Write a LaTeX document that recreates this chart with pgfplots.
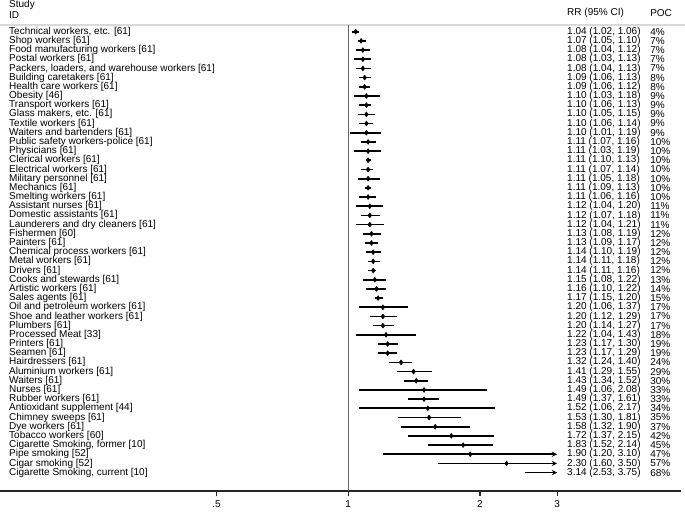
\documentclass[border=0pt]{standalone}
\usepackage{fontspec}
\setmainfont{Liberation Sans}
\usepackage{pgfplots}
\pgfplotsset{compat=1.18}
\usepackage{pgfplotstable}
\usetikzlibrary{arrows.meta}

\newcommand\fnt{\fontsize{7.5}{9}\selectfont}

\pgfplotstableread[col sep=semicolon]{
row;rr;lo;hi;name;ci;poc
1;1.04;1.02;1.06;Technical workers, etc. [61];1.04 (1.02, 1.06);4\%
2;1.07;1.05;1.10;Shop workers [61];1.07 (1.05, 1.10);7\%
3;1.08;1.04;1.12;Food manufacturing workers [61];1.08 (1.04, 1.12);7\%
4;1.08;1.03;1.13;Postal workers [61];1.08 (1.03, 1.13);7\%
5;1.08;1.04;1.13;Packers, loaders, and warehouse workers [61];1.08 (1.04, 1.13);7\%
6;1.09;1.06;1.13;Building caretakers [61];1.09 (1.06, 1.13);8\%
7;1.09;1.06;1.12;Health care workers [61];1.09 (1.06, 1.12);8\%
8;1.10;1.03;1.18;Obesity [46];1.10 (1.03, 1.18);9\%
9;1.10;1.06;1.13;Transport workers [61];1.10 (1.06, 1.13);9\%
10;1.10;1.05;1.15;Glass makers, etc. [61];1.10 (1.05, 1.15);9\%
11;1.10;1.06;1.14;Textile workers [61];1.10 (1.06, 1.14);9\%
12;1.10;1.01;1.19;Waiters and bartenders [61];1.10 (1.01, 1.19);9\%
13;1.11;1.07;1.16;Public safety workers-police [61];1.11 (1.07, 1.16);10\%
14;1.11;1.03;1.19;Physicians [61];1.11 (1.03, 1.19);10\%
15;1.11;1.10;1.13;Clerical workers [61];1.11 (1.10, 1.13);10\%
16;1.11;1.07;1.14;Electrical workers [61];1.11 (1.07, 1.14);10\%
17;1.11;1.05;1.18;Military personnel [61];1.11 (1.05, 1.18);10\%
18;1.11;1.09;1.13;Mechanics [61];1.11 (1.09, 1.13);10\%
19;1.11;1.06;1.16;Smelting workers [61];1.11 (1.06, 1.16);10\%
20;1.12;1.04;1.20;Assistant nurses [61];1.12 (1.04, 1.20);11\%
21;1.12;1.07;1.18;Domestic assistants [61];1.12 (1.07, 1.18);11\%
22;1.12;1.04;1.21;Launderers and dry cleaners [61];1.12 (1.04, 1.21);11\%
23;1.13;1.08;1.19;Fishermen [60];1.13 (1.08, 1.19);12\%
24;1.13;1.09;1.17;Painters [61];1.13 (1.09, 1.17);12\%
25;1.14;1.10;1.19;Chemical process workers [61];1.14 (1.10, 1.19);12\%
26;1.14;1.11;1.18;Metal workers [61];1.14 (1.11, 1.18);12\%
27;1.14;1.11;1.16;Drivers [61];1.14 (1.11, 1.16);12\%
28;1.15;1.08;1.22;Cooks and stewards [61];1.15 (1.08, 1.22);13\%
29;1.16;1.10;1.22;Artistic workers [61];1.16 (1.10, 1.22);14\%
30;1.17;1.15;1.20;Sales agents [61];1.17 (1.15, 1.20);15\%
31;1.20;1.06;1.37;Oil and petroleum workers [61];1.20 (1.06, 1.37);17\%
32;1.20;1.12;1.29;Shoe and leather workers [61];1.20 (1.12, 1.29);17\%
33;1.20;1.14;1.27;Plumbers [61];1.20 (1.14, 1.27);17\%
34;1.22;1.04;1.43;Processed Meat [33];1.22 (1.04, 1.43);18\%
35;1.23;1.17;1.30;Printers [61];1.23 (1.17, 1.30);19\%
36;1.23;1.17;1.29;Seamen [61];1.23 (1.17, 1.29);19\%
37;1.32;1.24;1.40;Hairdressers [61];1.32 (1.24, 1.40);24\%
38;1.41;1.29;1.55;Aluminium workers [61];1.41 (1.29, 1.55);29\%
39;1.43;1.34;1.52;Waiters [61];1.43 (1.34, 1.52);30\%
40;1.49;1.06;2.08;Nurses [61];1.49 (1.06, 2.08);33\%
41;1.49;1.37;1.61;Rubber workers [61];1.49 (1.37, 1.61);33\%
42;1.52;1.06;2.17;Antioxidant supplement [44];1.52 (1.06, 2.17);34\%
43;1.53;1.30;1.81;Chimney sweeps [61];1.53 (1.30, 1.81);35\%
44;1.58;1.32;1.90;Dye workers [61];1.58 (1.32, 1.90);37\%
45;1.72;1.37;2.15;Tobacco workers [60];1.72 (1.37, 2.15);42\%
46;1.83;1.52;2.14;Cigarette Smoking, former [10];1.83 (1.52, 2.14);45\%
47;1.90;1.20;3.10;Pipe smoking [52];1.90 (1.20, 3.10);47\%
48;2.30;1.60;3.50;Cigar smoking [52];2.30 (1.60, 3.50);57\%
49;3.14;2.53;3.75;Cigarette Smoking, current [10];3.14 (2.53, 3.75);68\%
}\studies

\begin{document}
\begin{tikzpicture}
\begin{axis}[
  scale only axis,
  width=510.75pt, height=368.25pt,
  xmode=log,
  xmin=0.160, xmax=5.76,
  ymin=-51, ymax=2.45,
  clip=false,
  hide y axis,
  axis x line=bottom,
  x axis line style={-, line width=0.9pt, black!85},
  xtick={0.5,1,2,3},
  xticklabels={{.5},{1},{2},{3}},
  minor xtick={},
  xtick align=outside,
  major tick length=3.75pt,
  xtick style={line width=0.8pt, black!85},
  xticklabel style={font=\fnt, inner sep=1pt, yshift=-2.5pt},
  ytick=\empty,
]
\coordinate (O) at (rel axis cs:0,0);
\coordinate (T) at (rel axis cs:1,1);

% header separator and line of no effect
\draw[black!15, line width=0.9pt] (axis cs:0.160,-0.27) -- ([xshift=3pt]axis cs:5.76,-0.27);
\addplot[black!60, line width=1pt] coordinates {(1,-0.27) (1,-51)};

% confidence intervals and point estimates
\addplot[only marks, mark=diamond*, mark size=1.8pt, black,
  error bars/.cd, x dir=both, x explicit,
  error bar style={line width=1.25pt, black}, error mark=none]
  table[x=rr, y expr=-\thisrow{row},
        x error plus expr=\thisrow{hi}-\thisrow{rr},
        x error minus expr=\thisrow{rr}-\thisrow{lo},
        skip coords between index={46}{49}] {\studies};

% intervals running past 3
\addplot[line width=1.25pt, -{Stealth[length=4pt,width=4pt,inset=1.5pt]}] coordinates {(1.20,-47) (3,-47)};
\addplot[line width=1.25pt, -{Stealth[length=4pt,width=4pt,inset=1.5pt]}] coordinates {(1.60,-48) (3,-48)};
\addplot[line width=1.25pt, -{Stealth[length=4pt,width=4pt,inset=1.5pt]}] coordinates {(2.53,-49) (3,-49)};
\addplot[only marks, mark=diamond*, mark size=1.8pt, black] coordinates {(1.90,-47) (2.30,-48)};

% text columns
\addplot[draw=none, mark=none, nodes near coords, point meta=explicit symbolic,
  every node near coord/.append style={anchor=west, inner sep=0pt, font=\fnt}]
  table[x expr=0.1677, y expr=-\thisrow{row}, meta=name] {\studies};
\addplot[draw=none, mark=none, nodes near coords, point meta=explicit symbolic,
  every node near coord/.append style={anchor=west, inner sep=0pt, font=\fnt}]
  table[x expr=3.161, y expr=-\thisrow{row}, meta=ci] {\studies};
\addplot[draw=none, mark=none, nodes near coords, point meta=explicit symbolic,
  every node near coord/.append style={anchor=west, inner sep=0pt, font=\fnt}]
  table[x expr=4.893, y expr=-\thisrow{row}, meta=poc] {\studies};

% headers
\node[anchor=west, inner sep=0pt, font=\fnt] at (axis cs:0.1677,1.91) {Study};
\node[anchor=west, inner sep=0pt, font=\fnt] at (axis cs:0.1677,0.82) {ID};
\node[anchor=west, inner sep=0pt, font=\fnt] at (axis cs:3.161,1.03) {RR (95\% CI)};
\node[anchor=west, inner sep=0pt, font=\fnt] at (axis cs:4.893,1.03) {POC};
\end{axis}
\pgfresetboundingbox
\path[use as bounding box] ([yshift=-15pt]O) rectangle ([xshift=3pt]T);
\end{tikzpicture}
\end{document}
